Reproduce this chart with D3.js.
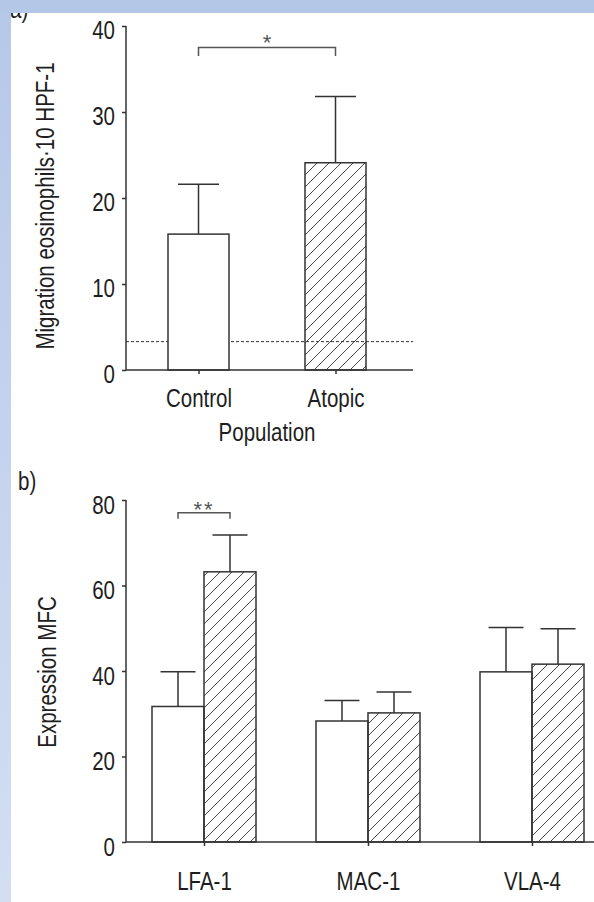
<!DOCTYPE html>
<html>
<head>
<meta charset="utf-8">
<script src="https://cdn.jsdelivr.net/npm/d3@7"></script>
<style>
  html, body { margin: 0; padding: 0; background: #fff; }
  svg { display: block; }
  text { font-family: "Liberation Sans", Arial, sans-serif; fill: #1e1e1e; }
</style>
</head>
<body>
<div id="chart"></div>
<script>
// panel a) migration
const popCategories = ["Control", "Atopic"];
const popMeans = [15.8, 24.1];
const popUpper = [21.6, 31.8];
const popBaseline = 3.3;
const popTicks = [0, 10, 20, 30, 40];
const popSig = [37.5, 36.5]; // bracket top, bracket feet

// panel b) expression
const markers = ["LFA-1", "MAC-1", "VLA-4"];
const controlMeans = [31.7, 28.3, 39.8];
const controlUpper = [39.8, 33.1, 50.2];
const atopicMeans = [63.2, 30.2, 41.6];
const atopicUpper = [71.8, 35.1, 49.9];
const mfcTicks = [0, 20, 40, 60, 80];
const mfcSig = [77.0, 75.6];

const W = 594, H = 902;
const ink = "#333";
const FS = 25;      // font size
const SX = 0.82;    // horizontal squeeze, narrow helvetica look

const svg = d3.select("#chart").append("svg")
    .attr("width", W)
    .attr("height", H);

// hatch pattern
const defs = svg.append("defs");
const pat = defs.append("pattern")
    .attr("id", "hatch")
    .attr("patternUnits", "userSpaceOnUse")
    .attr("width", 12)
    .attr("height", 12);
pat.append("path")
    .attr("d", "M-3,3 L3,-3 M0,12 L12,0 M9,15 L15,9")
    .attr("stroke", "#444")
    .attr("stroke-width", 1);

// squeeze a text horizontally around its anchor
function narrow(sel) {
    sel.each(function() {
        const t = d3.select(this);
        const x = +t.attr("x") || 0, y = +t.attr("y") || 0;
        t.attr("x", null).attr("y", null)
         .attr("transform", `translate(${x},${y}) scale(${SX},1)`);
    });
}

function styleAxis(g) {
    g.select(".domain").remove();
    g.selectAll(".tick line").attr("stroke", ink).attr("stroke-width", 1.5);
    g.selectAll(".tick text")
        .style("font-size", FS + "px")
        .style("fill", "#1e1e1e")
        .style("font-family", "'Liberation Sans', Arial, sans-serif")
        .call(narrow);
}

function label(x, y, txt, anchor) {
    return svg.append("text")
        .attr("transform", `translate(${x},${y}) scale(${SX},1)`)
        .attr("text-anchor", anchor || "start")
        .style("font-size", FS + "px")
        .text(txt);
}

// ---------- panel a ----------
const xA = d3.scalePoint().domain(popCategories).range([198.5, 335.5]);
const yA = d3.scaleLinear().domain([0, 40]).range([370, 26]);
const barWA = 61;

// dashed baseline (behind bars)
svg.append("line")
    .attr("x1", 126).attr("x2", 413)
    .attr("y1", yA(popBaseline)).attr("y2", yA(popBaseline))
    .attr("stroke", ink).attr("stroke-width", 1)
    .attr("stroke-dasharray", "3,2");

// error bars
svg.selectAll(".errA")
    .data(popCategories)
    .enter().append("path")
    .attr("d", (d, i) => {
        const cx = xA(d);
        return `M${cx},${yA(popMeans[i])}V${yA(popUpper[i])}M${cx - 20.5},${yA(popUpper[i])}H${cx + 20.5}`;
    })
    .attr("fill", "none").attr("stroke", ink).attr("stroke-width", 1.5);

svg.selectAll(".barA")
    .data(popCategories)
    .enter().append("rect")
    .attr("x", d => xA(d) - barWA / 2)
    .attr("y", (d, i) => yA(popMeans[i]))
    .attr("width", barWA)
    .attr("height", (d, i) => yA(0) - yA(popMeans[i]))
    .attr("fill", (d, i) => i === 0 ? "#fff" : "url(#hatch)")
    .attr("stroke", ink).attr("stroke-width", 1.5);

// axes
const yAxA = svg.append("g")
    .attr("transform", "translate(126,0)")
    .call(d3.axisLeft(yA).tickValues(popTicks).tickSize(4).tickPadding(7).tickSizeOuter(0));
yAxA.selectAll(".tick text").attr("y", 4);
yAxA.call(styleAxis);
svg.append("line").attr("x1", 126).attr("x2", 126).attr("y1", yA(40)).attr("y2", yA(0))
    .attr("stroke", ink).attr("stroke-width", 1.5);

svg.append("g")
    .attr("transform", `translate(0,${yA(0)})`)
    .call(d3.axisBottom(xA).tickSize(4).tickPadding(15).tickSizeOuter(0))
    .call(styleAxis);
svg.append("line").attr("x1", 126).attr("x2", 413).attr("y1", yA(0)).attr("y2", yA(0))
    .attr("stroke", ink).attr("stroke-width", 1.5);

label((xA("Control") + xA("Atopic")) / 2, 441, "Population", "middle");

svg.append("text")
    .attr("transform", `translate(54,206) rotate(-90) scale(${SX},1)`)
    .attr("text-anchor", "middle")
    .style("font-size", FS + "px")
    .text("Migration eosinophils·10 HPF-1");

// significance a
svg.append("path")
    .attr("d", `M${xA("Control")},${yA(popSig[1])}V${yA(popSig[0])}H${xA("Atopic")}V${yA(popSig[1])}`)
    .attr("fill", "none").attr("stroke", "#555").attr("stroke-width", 1.5);
svg.append("text")
    .attr("x", (xA("Control") + xA("Atopic")) / 2)
    .attr("y", yA(popSig[0]) + 2.5)
    .attr("text-anchor", "middle")
    .style("font-size", "22px")
    .style("fill", "#555")
    .text("*");

// ---------- panel b ----------
const xB = d3.scalePoint().domain(markers).range([204, 532]);
const yB = d3.scaleLinear().domain([0, 80]).range([842, 500]);
const barWB = 52;

const groups = [
    { means: controlMeans, upper: controlUpper, off: -barWB, fill: "#fff" },
    { means: atopicMeans, upper: atopicUpper, off: 0, fill: "url(#hatch)" }
];

groups.forEach(s => {
    svg.selectAll(null)
        .data(markers)
        .enter().append("path")
        .attr("d", (d, i) => {
            const cx = xB(d) + s.off + barWB / 2;
            return `M${cx},${yB(s.means[i])}V${yB(s.upper[i])}M${cx - 17.5},${yB(s.upper[i])}H${cx + 17.5}`;
        })
        .attr("fill", "none").attr("stroke", ink).attr("stroke-width", 1.5);

    svg.selectAll(null)
        .data(markers)
        .enter().append("rect")
        .attr("x", d => xB(d) + s.off)
        .attr("y", (d, i) => yB(s.means[i]))
        .attr("width", barWB)
        .attr("height", (d, i) => yB(0) - yB(s.means[i]))
        .attr("fill", s.fill)
        .attr("stroke", ink).attr("stroke-width", 1.5);
});

const yAxB = svg.append("g")
    .attr("transform", "translate(126,0)")
    .call(d3.axisLeft(yB).tickValues(mfcTicks).tickSize(4).tickPadding(7).tickSizeOuter(0));
yAxB.selectAll(".tick text").attr("y", 5);
yAxB.call(styleAxis);
svg.append("line").attr("x1", 126).attr("x2", 126).attr("y1", yB(80)).attr("y2", yB(0))
    .attr("stroke", ink).attr("stroke-width", 1.5);

svg.append("g")
    .attr("transform", `translate(0,${yB(0)})`)
    .call(d3.axisBottom(xB).tickSize(4).tickPadding(26).tickSizeOuter(0))
    .call(styleAxis);
svg.append("line").attr("x1", 126).attr("x2", 594).attr("y1", yB(0)).attr("y2", yB(0))
    .attr("stroke", ink).attr("stroke-width", 1.5);

svg.append("text")
    .attr("transform", `translate(56,672) rotate(-90) scale(${SX},1)`)
    .attr("text-anchor", "middle")
    .style("font-size", FS + "px")
    .text("Expression MFC");

// significance b
const sx1 = xB("LFA-1") - barWB / 2, sx2 = xB("LFA-1") + barWB / 2;
svg.append("path")
    .attr("d", `M${sx1},${yB(mfcSig[1])}V${yB(mfcSig[0])}H${sx2}V${yB(mfcSig[1])}`)
    .attr("fill", "none").attr("stroke", "#555").attr("stroke-width", 1.5);
svg.append("text")
    .attr("x", (sx1 + sx2) / 2)
    .attr("y", yB(mfcSig[0]) + 4)
    .attr("text-anchor", "middle")
    .style("font-size", "22px")
    .style("letter-spacing", "2px")
    .style("fill", "#555")
    .text("**");

// panel letters
label(18, 490, "b)");
label(10, 18, "a)");

// viewer frame
const grad = defs.append("linearGradient").attr("id", "side").attr("x1", 0).attr("x2", 0).attr("y1", 0).attr("y2", 1);
grad.append("stop").attr("offset", 0).attr("stop-color", "#b6c8e8");
grad.append("stop").attr("offset", 1).attr("stop-color", "#d3def3");
svg.append("rect").attr("x", 0).attr("y", 0).attr("width", 11).attr("height", H).attr("fill", "url(#side)");
svg.append("rect").attr("x", 0).attr("y", 0).attr("width", W).attr("height", 13).attr("fill", "#b4c7e7");
</script>
</body>
</html>
